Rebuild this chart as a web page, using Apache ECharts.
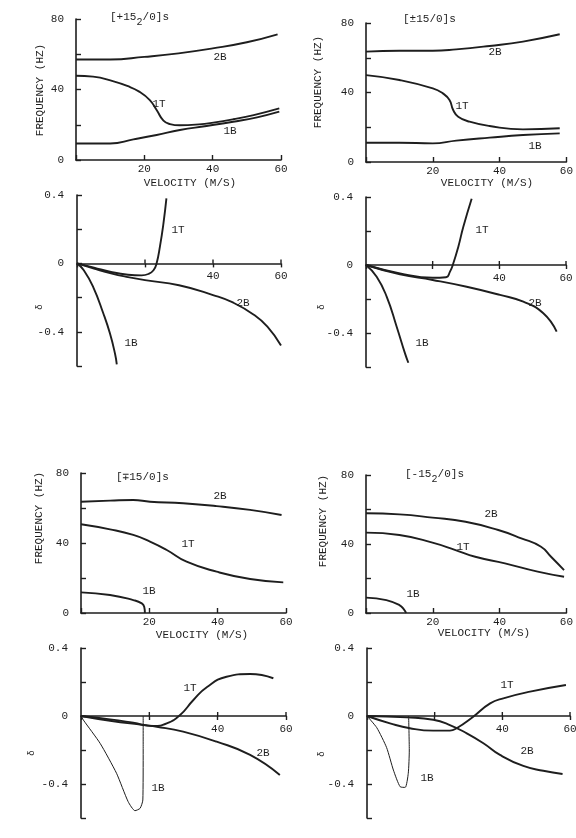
<!DOCTYPE html>
<html>
<head>
<meta charset="utf-8">
<script src="https://cdn.jsdelivr.net/npm/echarts@6/dist/echarts.min.js"></script>
<style>html,body{margin:0;padding:0;background:#fff;}#c{width:576px;height:838px;}</style>
</head>
<body>
<div id="c"></div>
<script>
// ---- tick labels ----
const velocityTicks = [20, 40, 60];
const freqTickLabels = [0, 40, 80];
const dampTickLabels = [0.4, 0, -0.4];
const dampVelocityLabels = [40, 60];

// ---- [+15_2/0]s (top left) ----
const tl_freq_2B = [[0,57],[10,57],[20,58.5],[30,60.5],[40,63.3],[50,66.8],[59,71.3]];
const tl_freq_1T = [[0,47.8],[5,47.3],[11,44.6],[15,42],[18.5,38.8],[21.6,34],[23.6,28.4],[25.6,22.3],[27.5,20.4],[30.4,19.7],[36,20.2],[40.2,21.2],[46,23.1],[52,25.5],[59.5,29.3]];
const tl_freq_1B = [[0,9.4],[10,9.4],[16.8,11.7],[23.6,14.2],[30.4,17],[38.2,19.3],[46,21.7],[53,24.2],[59.5,27.4]];
const tl_damp_1T = [[0,0],[5,-0.025],[10,-0.05],[15,-0.066],[19,-0.07],[21,-0.062],[22.5,-0.04],[23.4,0],[24.4,0.1],[25.4,0.23],[26.3,0.38]];
const tl_damp_2B = [[0,0],[5,-0.03],[10,-0.058],[15,-0.08],[20,-0.098],[30,-0.128],[40,-0.185],[46,-0.23],[52,-0.3],[56,-0.37],[60,-0.48]];
const tl_damp_1B = [[0,0],[2,-0.04],[4.8,-0.14],[7.7,-0.29],[9.7,-0.41],[11.2,-0.53],[11.7,-0.59]];

// ---- [±15/0]s (top right) ----
const tr_freq_2B = [[0,63.5],[10,64],[20,64],[27,64.8],[37,66.8],[47,69.3],[58,73.5]];
const tr_freq_1T = [[0,50],[10,47.2],[20,42.4],[23,39.5],[25,35.7],[26.1,29.9],[27.6,26.1],[31,23.2],[37,20.7],[47,18.8],[58,19.4]];
const tr_freq_1B = [[0,11.1],[10,11.1],[20,10.7],[27,12.3],[37,14],[47,15.5],[58,16.5]];
const tr_damp_1T = [[0,0],[10.2,-0.049],[20,-0.075],[24,-0.072],[25.2,-0.039],[26.2,0.01],[27.7,0.108],[29.2,0.225],[31.7,0.39]];
const tr_damp_2B = [[0,0],[10.2,-0.055],[20,-0.088],[30.2,-0.128],[40.2,-0.176],[47.2,-0.216],[53.2,-0.284],[57.2,-0.392]];
const tr_damp_1B = [[0,0],[3.2,-0.069],[6.2,-0.186],[9.2,-0.363],[11.7,-0.52],[12.7,-0.575]];

// ---- [∓15/0]s (bottom left) ----
const bl_freq_2B = [[0,63.6],[8.5,64.2],[15.3,64.6],[20.2,63.6],[29.9,62.7],[39.7,61.1],[49.5,58.9],[58.7,56]];
const bl_freq_1T = [[0,50.7],[8.5,47.8],[15.3,44.6],[20.2,40.8],[25.1,36],[30.9,29.3],[39.7,23.6],[49.5,19.4],[59.2,17.5]];
const bl_freq_1B = [[0,11.8],[8.5,10.3],[15.3,7.4],[17.8,5.5],[18.5,3.6],[18.7,0]];
const bl_damp_1T = [[0,0],[8.5,-0.02],[15.3,-0.04],[21.2,-0.059],[25.1,-0.043],[29,0.006],[32.9,0.094],[36.8,0.169],[42.6,0.231],[49.5,0.247],[56.3,0.222]];
const bl_damp_2B = [[0,0],[8.5,-0.028],[18.2,-0.053],[22.2,-0.063],[29.9,-0.092],[39.7,-0.151],[49.5,-0.229],[58.2,-0.347]];
const bl_damp_1B = [[0,0],[0.7,-0.024],[5.6,-0.161],[10.4,-0.337],[13.8,-0.504],[15.8,-0.557],[17.3,-0.543],[18.1,-0.494],[18.2,-0.2],[18.2,0]];

// ---- [-15_2/0]s (bottom right) ----
const br_freq_2B = [[0,57.8],[10,57.2],[19.9,55.3],[29.8,52.9],[39.6,48.1],[46.5,43.3],[52.4,38.4],[55.4,32.6],[59.3,24.9]];
const br_freq_1T = [[0,46.6],[10,45.2],[19.9,40.8],[26.8,36.5],[32.7,32.6],[41.6,28.8],[51.4,24],[59.3,21]];
const br_freq_1B = [[0,8.9],[6.1,7.5],[10,4.6],[11.5,1.7],[12,0]];
const br_damp_1T = [[0,0],[6.8,-0.043],[12.7,-0.072],[19.6,-0.086],[24.5,-0.086],[26.5,-0.072],[31.4,-0.004],[36.4,0.074],[40.3,0.104],[48.2,0.143],[58.8,0.182]];
const br_damp_2B = [[0,0],[11.7,-0.008],[19.6,-0.022],[24.5,-0.053],[29.5,-0.102],[34.4,-0.16],[39.3,-0.229],[46.2,-0.294],[52.1,-0.322],[57.8,-0.341]];
const br_damp_1B = [[0,0],[2.9,-0.069],[5.8,-0.186],[7.8,-0.318],[9.8,-0.416],[11.3,-0.42],[12.2,-0.337],[12.5,-0.2],[12.3,0]];

// ---- layout / styling ----
const FONT = '"Liberation Mono", "DejaVu Sans Mono", monospace';
const INK = '#1e1e1e';
const panels = [
  {kind:'freq', grid:{left:76, top:19, width:205, height:141}, curves:[tl_freq_2B, tl_freq_1T, tl_freq_1B], thin:[]},
  {kind:'damp', grid:{left:77, top:195, width:204, height:171}, curves:[tl_damp_1T, tl_damp_2B, tl_damp_1B], thin:[]},
  {kind:'freq', grid:{left:366, top:23, width:201, height:139}, curves:[tr_freq_2B, tr_freq_1T, tr_freq_1B], thin:[]},
  {kind:'damp', grid:{left:366, top:197, width:200, height:170}, curves:[tr_damp_1T, tr_damp_2B, tr_damp_1B], thin:[]},
  {kind:'freq', grid:{left:81, top:473, width:205, height:140}, curves:[bl_freq_2B, bl_freq_1T, bl_freq_1B], thin:[]},
  {kind:'damp', grid:{left:81, top:648, width:205, height:170}, curves:[bl_damp_1T, bl_damp_2B, bl_damp_1B], thin:[2]},
  {kind:'freq', grid:{left:366, top:475, width:203, height:138}, curves:[br_freq_2B, br_freq_1T, br_freq_1B], thin:[]},
  {kind:'damp', grid:{left:367, top:648, width:203, height:170}, curves:[br_damp_1T, br_damp_2B, br_damp_1B], thin:[2]}
];

const near = (a, b) => Math.abs(a - b) < 1e-6;
const grids = [], xAxes = [], yAxes = [], series = [];
panels.forEach((p, i) => {
  grids.push(Object.assign({containLabel:false}, p.grid));
  const labelBase = {color:INK, fontFamily:FONT, fontSize:11};
  const xIdx = xAxes.length;
  if (p.kind === 'freq') {
    xAxes.push({type:'value', gridIndex:i, min:0, max:60, interval:20, position:'bottom',
      axisLine:{show:true, onZero:false, lineStyle:{color:INK, width:1.6}}, splitLine:{show:false},
      axisTick:{show:true, inside:true, length:5, lineStyle:{color:INK, width:1.4}},
      axisLabel:Object.assign({margin:4, formatter:v => velocityTicks.some(t => near(t, v)) ? String(v) : ''}, labelBase)});
    yAxes.push({type:'value', gridIndex:i, min:0, max:80, interval:20,
      axisLine:{show:true, onZero:false, lineStyle:{color:INK, width:1.6}}, splitLine:{show:false},
      axisTick:{show:true, inside:true, length:5, lineStyle:{color:INK, width:1.4}},
      axisLabel:Object.assign({margin:12, formatter:v => freqTickLabels.some(t => near(t, v)) ? String(v) : ''}, labelBase)});
  } else {
    xAxes.push({type:'value', gridIndex:i, min:0, max:60, interval:20, position:'bottom',
      axisLine:{show:true, onZero:true, onZeroAxisIndex:i, lineStyle:{color:INK, width:1.6}}, splitLine:{show:false},
      axisTick:{show:true, inside:false, length:4, lineStyle:{color:INK, width:1.4}},
      axisLabel:{show:false}});
    yAxes.push({type:'value', gridIndex:i, min:-0.6, max:0.4, interval:0.2,
      axisLine:{show:true, onZero:false, lineStyle:{color:INK, width:1.6}}, splitLine:{show:false},
      axisTick:{show:true, inside:true, length:5, lineStyle:{color:INK, width:1.4}},
      axisLabel:Object.assign({margin:13, formatter:v => {
        const t = dampTickLabels.find(t => near(t, v));
        return t === undefined ? '' : String(t);
      }}, labelBase)});
  }
  p.curves.forEach((c, k) => {
    const thin = p.thin.includes(k);
    series.push({type:'line', xAxisIndex:xIdx, yAxisIndex:i, data:c, showSymbol:false, symbol:'none',
      smooth: thin ? 0.2 : 0.5, silent:true,
      lineStyle:{color:INK, width: thin ? 1.0 : 1.9}});
  });
});

// ---- text annotations ----
function txt(x, y, text, opt) {
  opt = opt || {};
  return {type:'text', x, y, rotation:opt.rot || 0, silent:true, z:10,
    style:{text, fill:INK, fontFamily:FONT, fontSize:opt.size || 11,
      align:opt.align || 'center', verticalAlign:'middle',
      textAlign:opt.align || 'center', textVerticalAlign:'middle'}};
}
function titleSub(x, y, a, sub, b) {
  const cw = 6.6;
  if (!sub) return [txt(x, y, a + b, {align:'left'})];
  return [txt(x, y, a, {align:'left'}),
    txt(x + a.length * cw, y + 5, sub, {align:'left', size:10}),
    txt(x + a.length * cw + 6.2, y, b, {align:'left'})];
}
const R = Math.PI / 2;
const graphic = [].concat(
  titleSub(110, 17, '[+15', '2', '/0]s'),
  titleSub(403, 19, '[±15', '', '/0]s'),
  titleSub(116, 477, '[∓15', '', '/0]s'),
  titleSub(405, 474, '[-15', '2', '/0]s'),
  [
    txt(190, 183, 'VELOCITY (M/S)'), txt(487, 183, 'VELOCITY (M/S)'),
    txt(202, 635, 'VELOCITY (M/S)'), txt(484, 633, 'VELOCITY (M/S)'),
    txt(40, 90, 'FREQUENCY (HZ)', {rot:R}), txt(318, 82, 'FREQUENCY (HZ)', {rot:R}),
    txt(39, 518, 'FREQUENCY (HZ)', {rot:R}), txt(323, 521, 'FREQUENCY (HZ)', {rot:R}),
    txt(40, 307, 'δ', {rot:R, size:9}), txt(322, 307, 'δ', {rot:R, size:9}),
    txt(32, 753, 'δ', {rot:R, size:9}), txt(322, 754, 'δ', {rot:R, size:9}),
    // curve labels
    txt(220, 57, '2B'), txt(159, 104, '1T'), txt(230, 131, '1B'),
    txt(178, 230, '1T'), txt(243, 303, '2B'), txt(131, 343, '1B'),
    txt(495, 52, '2B'), txt(462, 106, '1T'), txt(535, 146, '1B'),
    txt(482, 230, '1T'), txt(535, 303, '2B'), txt(422, 343, '1B'),
    txt(220, 496, '2B'), txt(188, 544, '1T'), txt(149, 591, '1B'),
    txt(190, 688, '1T'), txt(263, 753, '2B'), txt(158, 788, '1B'),
    txt(491, 514, '2B'), txt(463, 547, '1T'), txt(413, 594, '1B'),
    txt(507, 685, '1T'), txt(527, 751, '2B'), txt(427, 778, '1B')
  ]
);

const chart = echarts.init(document.getElementById('c'), null, {renderer:'canvas'});
chart.setOption({
  animation:false,
  backgroundColor:'#ffffff',
  grid:grids, xAxis:xAxes, yAxis:yAxes, series
});
// velocity labels and upper tick halves of the damping plots sit on the zero line:
// place them through the axis scale
panels.forEach((p, i) => {
  if (p.kind !== 'damp') return;
  dampVelocityLabels.forEach(v => {
    const pt = chart.convertToPixel({gridIndex:i}, [v, 0]);
    graphic.push(txt(pt[0], pt[1] + 13, String(v)));
  });
  velocityTicks.forEach(v => {
    const pt = chart.convertToPixel({gridIndex:i}, [v, 0]);
    graphic.push({type:'line', silent:true, z:10,
      shape:{x1:pt[0], y1:pt[1], x2:pt[0], y2:pt[1] - 4},
      style:{stroke:INK, lineWidth:1.4}});
  });
});
chart.setOption({graphic});
</script>
</body>
</html>
